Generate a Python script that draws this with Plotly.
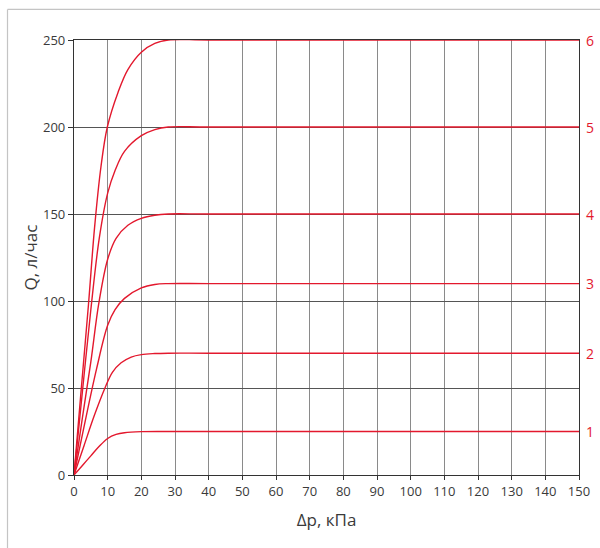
import plotly.graph_objects as go

# Data (Δp in kPa, Q in l/h)
curve_labels = ["1", "2", "3", "4", "5", "6"]
plateaus = [25, 70, 110, 150, 200, 250]

c1_x = [0, 2.5, 5, 7.5, 10, 12.5, 15, 20, 28, 40, 150]
c1_q = [0, 5.5, 11, 16.5, 21, 23.3, 24.3, 24.9, 25, 25, 25]

c2_x = [0, 3, 6, 9.2, 11.4, 14, 17, 20, 24, 28, 40, 150]
c2_q = [0, 17, 34, 50, 59, 64.5, 67.8, 69.2, 69.8, 70, 70, 70]

c3_x = [0, 3, 6.7, 10, 12.2, 15, 20, 24, 28, 40, 150]
c3_q = [0, 28, 61, 86, 95, 101.5, 107.5, 109.5, 110, 110, 110]

c4_x = [0, 2.5, 5, 7.4, 10, 12.5, 16, 20, 24, 28, 40, 150]
c4_q = [0, 33, 65, 99, 124, 136, 143.5, 147.5, 149.3, 150, 150, 150]

c5_x = [0, 2.5, 5, 7.5, 10, 12.2, 15, 20, 24, 28, 40, 150]
c5_q = [0, 48, 95, 136, 162, 175, 186, 195, 198.5, 200, 200, 200]

c6_x = [0, 2, 4.3, 6.1, 8, 9.9, 13.1, 16, 20, 24, 28, 40, 150]
c6_q = [0, 46, 98, 142, 177, 200, 220, 233, 243, 248, 250, 250, 250]

x_ticks = list(range(0, 151, 10))
y_ticks = [0, 50, 100, 150, 200, 250]

RED = "#e3182d"
FONT = "Open Sans"
TXT = "#3a3a3a"

fig = go.Figure()
for xs, qs in [(c1_x, c1_q), (c2_x, c2_q), (c3_x, c3_q),
               (c4_x, c4_q), (c5_x, c5_q), (c6_x, c6_q)]:
    fig.add_trace(go.Scatter(x=xs, y=qs, mode="lines",
                             line=dict(color=RED, width=1.4, shape="spline", smoothing=1.0),
                             showlegend=False, hoverinfo="skip", cliponaxis=False))

for lab, q in zip(curve_labels, plateaus):
    fig.add_annotation(x=1, xref="paper", y=q, yref="y", text=lab,
                       xanchor="left", yanchor="middle", xshift=5, showarrow=False,
                       font=dict(family=FONT, size=14, color=RED))

# outer light frame (partial, as in the cropped reference)
fig.add_shape(type="line", xref="paper", yref="paper",
              x0=(7.5 - 74) / 505, x1=(7.5 - 74) / 505,
              y0=(475 - 10) / 434.5, y1=(475 - 560) / 434.5,
              line=dict(color="#c4c4c4", width=1.2))
fig.add_shape(type="line", xref="paper", yref="paper",
              x0=(7.5 - 74) / 505, x1=(610 - 74) / 505,
              y0=(475 - 10) / 434.5, y1=(475 - 10) / 434.5,
              line=dict(color="#c4c4c4", width=1.2))

fig.update_layout(
    width=600, height=548,
    margin=dict(l=74, r=21, t=40, b=73),
    paper_bgcolor="white", plot_bgcolor="white",
    font=dict(family=FONT, color=TXT),
)
fig.update_xaxes(range=[0, 150], tickvals=x_ticks, ticktext=[str(v) for v in x_ticks],
                 showgrid=True, gridcolor="#8a8a8a", gridwidth=1.2,
                 showline=True, linecolor="#333", linewidth=1.2, mirror=True,
                 ticks="outside", ticklen=4, tickcolor="#333",
                 tickfont=dict(size=13, color=TXT, family=FONT),
                 title=dict(text="Δp, кПа", font=dict(size=17, color=TXT, family=FONT), standoff=15),
                 zeroline=False, automargin=False)
fig.update_yaxes(range=[0, 250], tickvals=y_ticks, ticktext=[str(v) for v in y_ticks],
                 showgrid=True, gridcolor="#555", gridwidth=1.2,
                 showline=True, linecolor="#333", linewidth=1.2, mirror=True,
                 ticks="outside", ticklen=5, tickcolor="#333",
                 tickfont=dict(size=13, color=TXT, family=FONT),
                 title=dict(text="Q, л/час", font=dict(size=17, color=TXT, family=FONT), standoff=1),
                 zeroline=False, automargin=False)

fig.write_html("out.html", config={"displayModeBar": False},
               post_script="document.body.style.margin='0';document.body.style.overflow='hidden';")
